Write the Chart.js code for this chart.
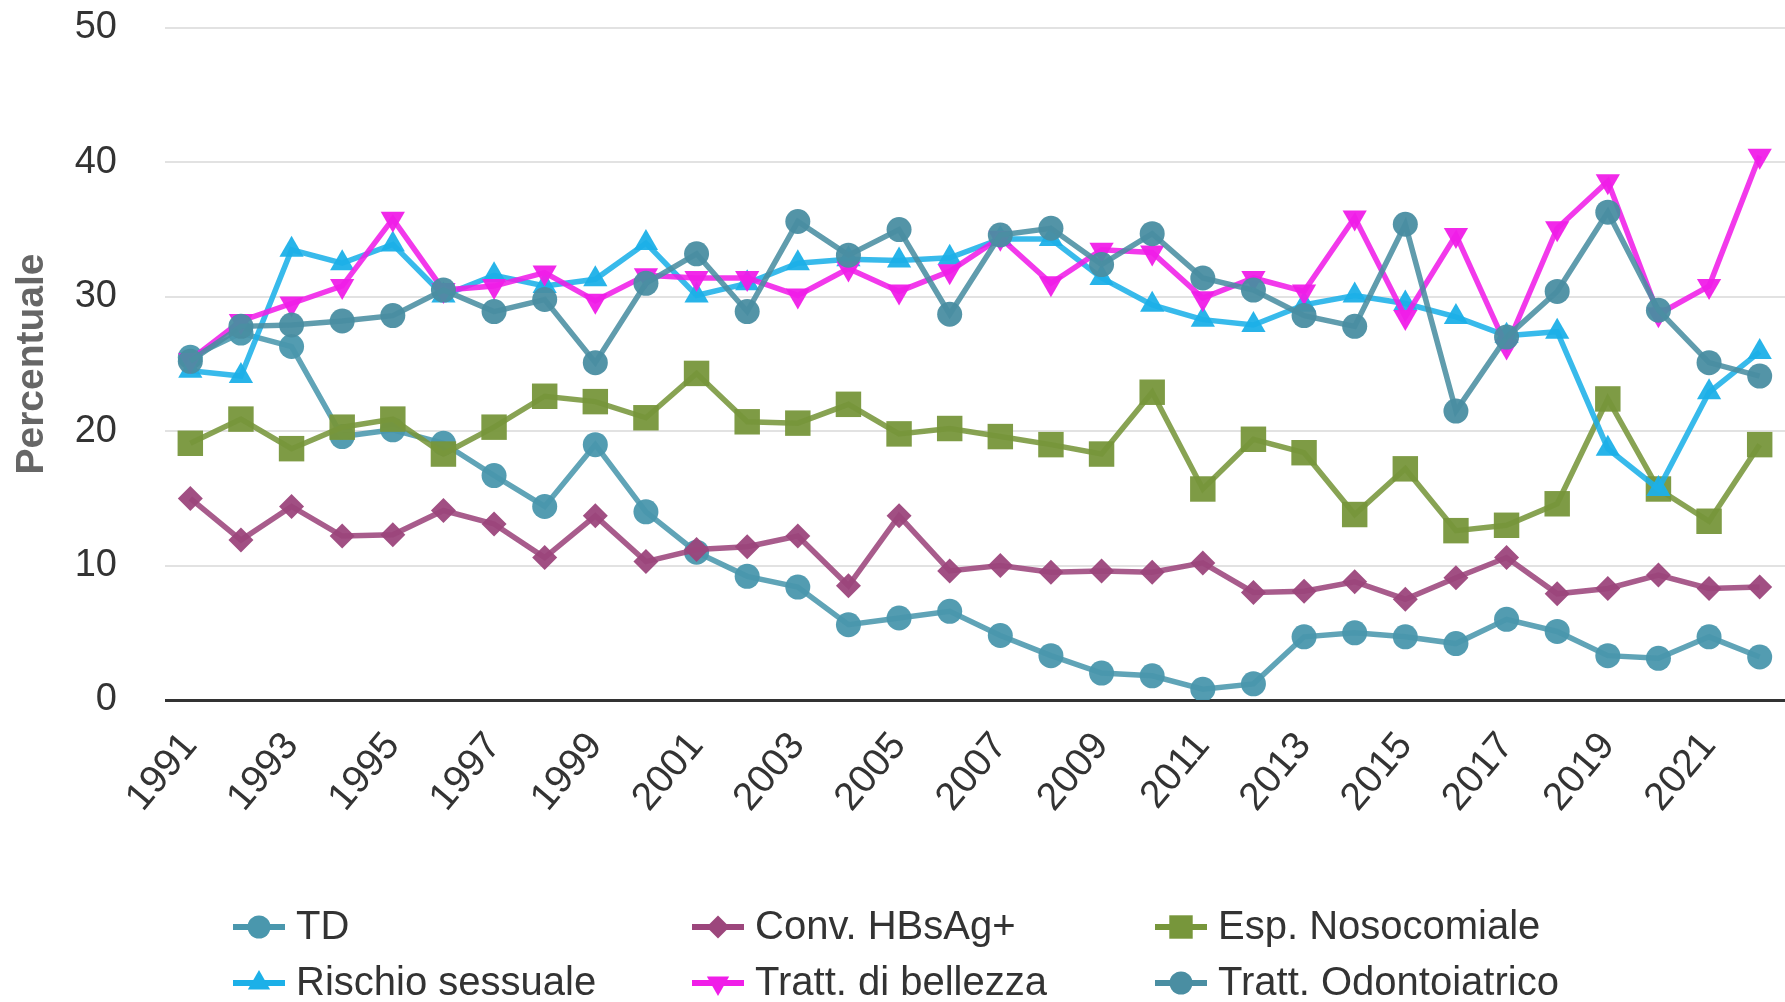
<!DOCTYPE html>
<html>
<head>
<meta charset="utf-8">
<script src="https://cdn.jsdelivr.net/npm/chart.js@4.4.1/dist/chart.umd.min.js"></script>
<style>
  html, body { margin: 0; padding: 0; background: #ffffff; }
  #wrap { width: 1785px; height: 1002px; position: relative; }
  canvas { display: block; }
</style>
</head>
<body>
<div id="wrap"><canvas id="chart" width="1785" height="1002"></canvas></div>
<script>
// Anni di osservazione
const years = [1991, 1992, 1993, 1994, 1995, 1996, 1997, 1998, 1999, 2000,
               2001, 2002, 2003, 2004, 2005, 2006, 2007, 2008, 2009, 2010,
               2011, 2012, 2013, 2014, 2015, 2016, 2017, 2018, 2019, 2020,
               2021, 2022];

// Percentuali per fattore di rischio
const td = [25.5, 27.3, 26.3, 19.6, 20.1, 19.1, 16.7, 14.4, 19.0, 14.0,
            11.0, 9.2, 8.4, 5.6, 6.1, 6.6, 4.8, 3.3, 2.0, 1.8,
            0.8, 1.2, 4.7, 5.0, 4.7, 4.2, 6.0, 5.1, 3.3, 3.1,
            4.7, 3.2];
const convHBsAg = [15.0, 11.9, 14.4, 12.2, 12.3, 14.1, 13.1, 10.6, 13.7, 10.3,
                   11.2, 11.4, 12.2, 8.5, 13.7, 9.6, 10.0, 9.5, 9.6, 9.5,
                   10.2, 8.0, 8.1, 8.8, 7.5, 9.1, 10.6, 7.9, 8.3, 9.3,
                   8.3, 8.4];
const espNosocomiale = [19.1, 20.9, 18.7, 20.3, 20.9, 18.3, 20.3, 22.6, 22.2, 21.0,
                        24.3, 20.7, 20.6, 22.0, 19.8, 20.2, 19.6, 19.0, 18.3, 22.9,
                        15.7, 19.4, 18.4, 13.8, 17.2, 12.6, 13.0, 14.6, 22.4, 15.7,
                        13.3, 19.0];
const rischioSessuale = [24.5, 24.1, 33.5, 32.5, 33.9, 30.1, 31.6, 30.8, 31.3, 34.0,
                         30.1, 31.0, 32.5, 32.8, 32.7, 32.9, 34.3, 34.3, 31.4, 29.4,
                         28.3, 27.9, 29.4, 30.1, 29.5, 28.5, 27.1, 27.4, 18.7, 15.7,
                         22.9, 25.9];
const trattBellezza = [25.3, 28.2, 29.5, 30.8, 35.8, 30.5, 30.8, 31.8, 29.7, 31.6,
                       31.4, 31.4, 30.1, 32.1, 30.4, 31.9, 34.4, 31.0, 33.5, 33.3,
                       29.9, 31.4, 30.4, 35.9, 28.5, 34.6, 26.3, 35.1, 38.6, 28.7,
                       30.8, 40.5];
const trattOdontoiatrico = [25.2, 27.8, 27.9, 28.2, 28.6, 30.5, 28.9, 29.8, 25.1, 31.0,
                            33.2, 28.9, 35.6, 33.1, 35.0, 28.7, 34.6, 35.1, 32.4, 34.7,
                            31.4, 30.5, 28.6, 27.8, 35.4, 21.5, 27.0, 30.4, 36.3, 29.0,
                            25.1, 24.1];

// Etichette e tacche dell'asse Y
const seriesNames = ['TD', 'Conv. HBsAg+', 'Esp. Nosocomiale',
                     'Rischio sessuale', 'Tratt. di bellezza', 'Tratt. Odontoiatrico'];
const yTicks = [0, 10, 20, 30, 40, 50];

const FONT = "'Liberation Sans', Arial, Helvetica, sans-serif";

const styles = [
  { color: '#4a97ad', point: 'circle',   radius: 12.5, rotation: 0 },
  { color: '#9c467c', point: 'rectRot',  radius: 12.5, rotation: 0 },
  { color: '#77963b', point: 'rect',     radius: 18,   rotation: 0 },
  { color: '#1cb0e8', point: 'triangle', radius: 14,   rotation: 0 },
  { color: '#f01ee8', point: 'triangle', radius: 14,   rotation: 180 },
  { color: '#4a8ea2', point: 'circle',   radius: 12.5, rotation: 0 }
];
const seriesData = [td, convHBsAg, espNosocomiale, rischioSessuale, trattBellezza, trattOdontoiatrico];

function withAlpha(hex, a) {
  const n = parseInt(hex.slice(1), 16);
  return `rgba(${(n >> 16) & 255},${(n >> 8) & 255},${n & 255},${a})`;
}

const datasets = seriesData.map((data, i) => ({
  label: seriesNames[i],
  data: data,
  borderColor: withAlpha(styles[i].color, 0.88),
  backgroundColor: withAlpha(styles[i].color, 0.95),
  pointBackgroundColor: withAlpha(styles[i].color, 0.95),
  pointBorderColor: 'rgba(0,0,0,0)',
  pointBorderWidth: 0,
  borderWidth: 5.5,
  pointStyle: styles[i].point,
  pointRadius: styles[i].radius,
  pointRotation: styles[i].rotation,
  tension: 0,
  fill: false,
  // later series are painted above earlier ones
  order: seriesData.length - 1 - i
}));

// Il plot arriva fino al bordo destro del canvas
const fullWidthArea = {
  id: 'fullWidthArea',
  afterLayout(chart) {
    const area = chart.chartArea;
    area.right = chart.width;
    area.width = area.right - area.left;
    const x = chart.scales.x;
    x.right = chart.width;
    x.width = x.right - x.left;
    x.configure();
  }
};

// Legenda a griglia (3 colonne x 2 righe) sotto il grafico
const gridLegend = {
  id: 'gridLegend',
  afterDraw(chart) {
    const ctx = chart.ctx;
    const cols = [259, 718, 1181];
    const rows = [927, 983];
    ctx.save();
    seriesNames.forEach((name, i) => {
      const cx = cols[i % 3];
      const cy = rows[Math.floor(i / 3)];
      const st = styles[i];
      ctx.strokeStyle = st.color;
      ctx.lineWidth = 6;
      ctx.beginPath();
      ctx.moveTo(cx - 26, cy);
      ctx.lineTo(cx + 26, cy);
      ctx.stroke();
      ctx.fillStyle = st.color;
      Chart.helpers.drawPoint(ctx, {
        pointStyle: st.point,
        radius: st.radius * 0.92,
        rotation: st.rotation,
        borderWidth: 0
      }, cx, cy);
      ctx.fillStyle = '#333333';
      ctx.font = `40px ${FONT}`;
      ctx.textAlign = 'left';
      ctx.textBaseline = 'middle';
      ctx.fillText(name, cx + 37, cy + 1);
    });
    ctx.restore();
  }
};

new Chart(document.getElementById('chart'), {
  type: 'line',
  data: { labels: years.map(String), datasets },
  plugins: [fullWidthArea, gridLegend],
  options: {
    responsive: false,
    maintainAspectRatio: false,
    animation: false,
    devicePixelRatio: 1,
    layout: { padding: { top: 28, right: 0, bottom: 0, left: 0 } },
    plugins: {
      legend: { display: false },
      tooltip: { enabled: false }
    },
    scales: {
      x: {
        offset: true,
        grid: { display: false, drawTicks: false },
        border: { display: false },
        afterFit(scale) {
          scale.height = 302;
          scale.paddingLeft = 0;
          scale.paddingRight = 0;
        },
        ticks: {
          autoSkip: false,
          maxRotation: 50,
          minRotation: 50,
          padding: 24,
          color: '#333333',
          font: { family: FONT, size: 39 },
          callback(value, index) {
            return years[index] % 2 === 1 ? String(years[index]) : '';
          }
        }
      },
      y: {
        min: yTicks[0],
        max: yTicks[yTicks.length - 1],
        afterFit(scale) {
          scale.width = 165;
          scale.paddingTop = 0;
          scale.paddingBottom = 0;
        },
        afterBuildTicks(scale) { scale.ticks = yTicks.map(v => ({ value: v })); },
        border: { display: false },
        grid: {
          drawTicks: false,
          color: ctx => ctx.tick && ctx.tick.value === 0 ? '#333333' : '#e2e2e2',
          lineWidth: ctx => ctx.tick && ctx.tick.value === 0 ? 3 : 2
        },
        ticks: {
          padding: 48,
          color: '#333333',
          font: { family: FONT, size: 38 }
        },
        title: {
          display: true,
          text: 'Percentuale',
          color: '#666666',
          padding: { top: 9, bottom: 0 },
          font: { family: FONT, size: 39, weight: 'bold' }
        }
      }
    }
  }
});
</script>
</body>
</html>
